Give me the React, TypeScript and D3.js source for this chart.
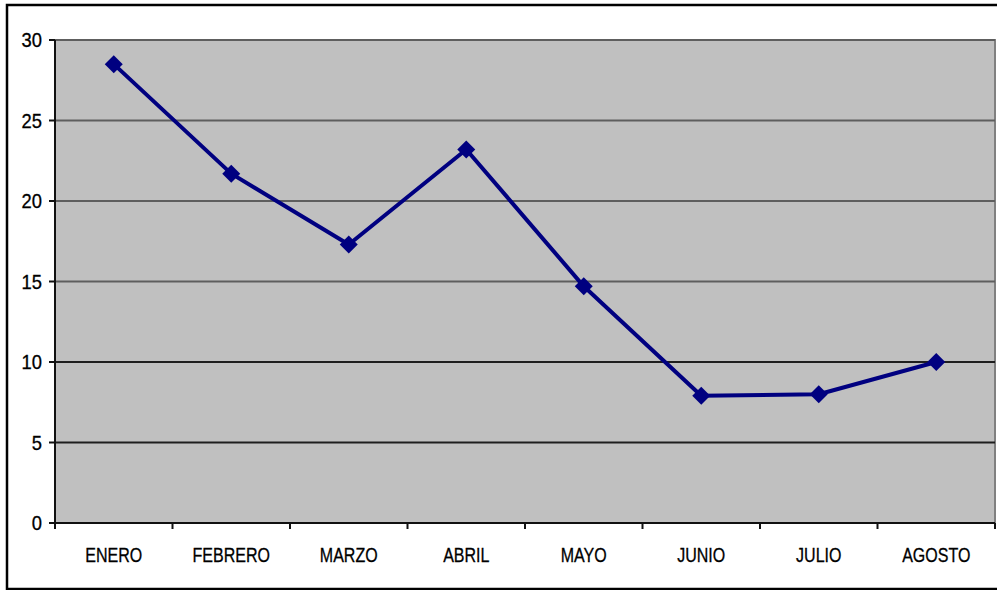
import React from "react";
import * as d3 from "d3";

const categories = ["ENERO", "FEBRERO", "MARZO", "ABRIL", "MAYO", "JUNIO", "JULIO", "AGOSTO"];
const values = [28.5, 21.7, 17.3, 23.2, 14.7, 7.9, 8.0, 10.0];
const yTicks = [0, 5, 10, 15, 20, 25, 30];

const W = 997;
const H = 590;
const plot = { left: 55, right: 995, top: 40, bottom: 523 };

export default function App() {
  const x = d3.scaleBand<string>().domain(categories).range([plot.left, plot.right]);
  const y = d3.scaleLinear().domain([0, 30]).range([plot.bottom, plot.top]);
  const cx = (c: string) => (x(c) ?? 0) + x.bandwidth() / 2;
  const line = d3
    .line<number>()
    .x((_, i) => cx(categories[i]))
    .y((v) => y(v));
  const font = "'Liberation Sans', Arial, sans-serif";
  const boundaries = categories.map((c) => x(c) ?? 0).concat([plot.right]);

  return (
    <svg
      width={W}
      height={H}
      style={{ position: "absolute", left: 0, top: 0, display: "block", background: "#fff" }}
    >
      <rect x={7} y={5} width={W + 10} height={H - 6} fill="#fff" stroke="#000" strokeWidth={2.5} />
      <rect
        x={plot.left}
        y={plot.top}
        width={plot.right - plot.left}
        height={plot.bottom - plot.top}
        fill="#c0c0c0"
        stroke="#808080"
        strokeWidth={2}
      />
      {yTicks
        .filter((t) => t > 0)
        .map((t) => (
          <line
            key={"g" + t}
            x1={plot.left}
            x2={plot.right}
            y1={y(t)}
            y2={y(t)}
            stroke={t >= 15 ? "#5e5e5e" : "#1e1e1e"}
            strokeWidth={2}
          />
        ))}
      <line x1={plot.left} x2={plot.left} y1={plot.top} y2={plot.bottom} stroke="#111" strokeWidth={2} />
      <line x1={plot.left} x2={plot.right} y1={plot.bottom} y2={plot.bottom} stroke="#111" strokeWidth={2} />
      {yTicks.map((t) => (
        <g key={"t" + t}>
          <line x1={plot.left - 6} x2={plot.left} y1={y(t)} y2={y(t)} stroke="#111" strokeWidth={2} />
          <text
            transform={`translate(42, ${y(t) + 7}) scale(0.92, 1)`}
            textAnchor="end"
            fontFamily={font}
            fontSize={20}
            fill="#000"
            stroke="#000"
            strokeWidth={0.3}
          >
            {t}
          </text>
        </g>
      ))}
      {boundaries.map((b, i) => (
        <line key={"b" + i} x1={b} x2={b} y1={plot.bottom} y2={plot.bottom + 6} stroke="#111" strokeWidth={2} />
      ))}
      {categories.map((c) => (
        <text
          key={c}
          transform={`translate(${cx(c)}, 562) scale(0.8, 1)`}
          textAnchor="middle"
          fontFamily={font}
          fontSize={20}
          fill="#000"
          stroke="#000"
          strokeWidth={0.3}
        >
          {c}
        </text>
      ))}
      <path d={line(values) ?? ""} fill="none" stroke="#000080" strokeWidth={4} strokeLinejoin="round" />
      {values.map((v, i) => {
        const px = cx(categories[i]);
        const py = y(v);
        const r = 9;
        return (
          <path
            key={"m" + i}
            d={`M${px},${py - r}L${px + r},${py}L${px},${py + r}L${px - r},${py}Z`}
            fill="#000080"
          />
        );
      })}
    </svg>
  );
}
